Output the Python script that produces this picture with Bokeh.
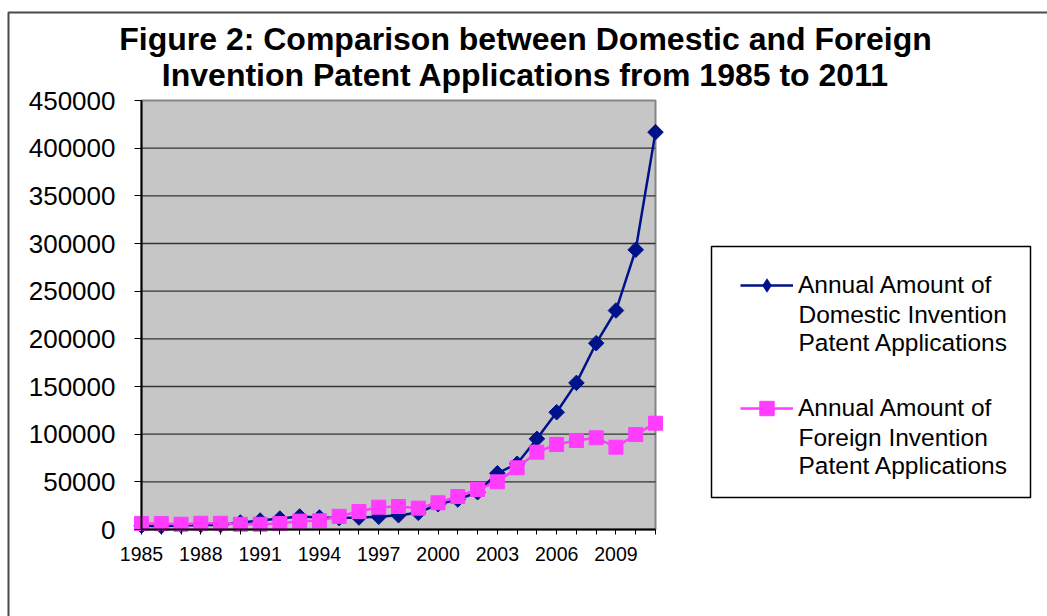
from bokeh.plotting import figure
from bokeh.models import (Range1d, FixedTicker, LinearAxis, Legend, LegendItem,
                          Label, BoxAnnotation)
from bokeh.embed import file_html
from bokeh.resources import INLINE

# ---------------- data ----------------
years = [1985, 1986, 1987, 1988, 1989, 1990, 1991, 1992, 1993, 1994, 1995, 1996, 1997, 1998,
         1999, 2000, 2001, 2002, 2003, 2004, 2005, 2006, 2007, 2008, 2009, 2010, 2011]
domestic = [4000, 3500, 4300, 4800, 4700, 7300, 9400, 11500, 13600, 12600, 12000, 12600, 13300, 15000,
            17500, 26500, 31500, 39100, 59000, 69000, 95100, 123000, 153800, 195400, 229700, 293400, 416800]
foreign = [6200, 6200, 5500, 6500, 6500, 5500, 5500, 6200, 8800, 9100, 13800, 18900, 23400, 24100,
           22400, 28000, 34600, 42000, 50000, 64700, 81100, 89200, 93400, 96200, 86300, 99600, 111500]
x_tick_labels = ["1985", "1988", "1991", "1994", "1997", "2000", "2003", "2006", "2009"]
y_ticks = [0, 50000, 100000, 150000, 200000, 250000, 300000, 350000, 400000, 450000]
y_tick_labels = ["0", "50000", "100000", "150000", "200000", "250000", "300000", "350000", "400000", "450000"]
title_lines = ["Figure 2: Comparison between Domestic and Foreign",
               "Invention Patent Applications from 1985 to 2011"]
series_lines = [["Annual Amount of", "Domestic Invention", "Patent Applications"],
                ["Annual Amount of", "Foreign Invention", "Patent Applications"]]

FONT = "Liberation Sans"
BLUE = "#00128a"
PINK = "#ff3dff"

W, H = 1047, 616
# pixel geometry of the plot area (frame covers the whole canvas)
PX_LEFT, PX_RIGHT = 141, 655      # first / last category
PY_TOP, PY_ZERO = 100, 529        # top of value axis / zero line
xper = (PX_RIGHT - PX_LEFT) / (years[-1] - years[0])
x0 = years[0] - PX_LEFT / xper
yper = (PY_ZERO - PY_TOP) / (y_ticks[-1] - y_ticks[0])
y0 = y_ticks[0] - (H - PY_ZERO) / yper

p = figure(width=W, height=H, output_backend="svg", toolbar_location=None,
           x_range=Range1d(x0, x0 + W / xper),
           y_range=Range1d(y0, y0 + H / yper),
           x_axis_location=None, y_axis_location=None,
           min_border=0, min_border_left=0, min_border_right=0,
           min_border_top=0, min_border_bottom=0)
p.grid.visible = False
p.outline_line_color = None
p.background_fill_color = "white"
p.border_fill_color = "white"

# plot area background
p.quad(left=years[0], right=years[-1], bottom=y_ticks[0], top=y_ticks[-1],
       fill_color="#c6c6c6", line_color="#858585", line_width=2)
# gridlines
p.segment(x0=years[0], x1=years[-1], y0=y_ticks[1:-1], y1=y_ticks[1:-1],
          line_color="#333333", line_width=1.3)

# axes
yaxis = LinearAxis(fixed_location=years[0], ticker=FixedTicker(ticks=y_ticks),
                   major_label_overrides={t: l for t, l in zip(y_ticks, y_tick_labels)},
                   bounds=(y_ticks[0], y_ticks[-1]))
yaxis.axis_line_color = "black"
yaxis.axis_line_width = 2
yaxis.major_tick_out = 7
yaxis.major_tick_in = 0
yaxis.minor_tick_out = 0
yaxis.minor_tick_in = 0
yaxis.major_label_standoff = 19
yaxis.major_label_text_font = FONT
yaxis.major_label_text_font_size = "26px"
yaxis.major_label_text_color = "black"
p.add_layout(yaxis, "left")

xaxis = LinearAxis(fixed_location=y_ticks[0], ticker=FixedTicker(ticks=years),
                   major_label_overrides={yr: (str(yr) if str(yr) in x_tick_labels else "") for yr in years},
                   bounds=(years[0], years[-1]))
xaxis.axis_line_color = "black"
xaxis.axis_line_width = 2
xaxis.major_tick_out = 5
xaxis.major_tick_in = 0
xaxis.minor_tick_out = 0
xaxis.minor_tick_in = 0
xaxis.major_label_standoff = 12
xaxis.major_label_text_font = FONT
xaxis.major_label_text_font_size = "19.5px"
xaxis.major_label_text_color = "black"
p.add_layout(xaxis, "below")

# series
l1 = p.line(years, domestic, line_color=BLUE, line_width=2.5)
s1 = p.scatter(years, domestic, marker="square", angle=0.785398, size=11,
               fill_color=BLUE, line_color=BLUE)
l2 = p.line(years, foreign, line_color=PINK, line_width=2.5)
s2 = p.scatter(years, foreign, marker="square", size=14, fill_color=PINK, line_color=PINK)
# legend-only marker (diamond shape for the key; zero size in the plot itself)
k1 = p.scatter(years, domestic, marker="diamond", size=0, fill_color=BLUE, line_color=None)

# legend box
LEG_L, LEG_R, LEG_T, LEG_B = 711, 1030, 246, 497
p.add_layout(BoxAnnotation(left=LEG_L, right=LEG_R, top=H - LEG_T, bottom=H - LEG_B,
                           left_units="screen", right_units="screen",
                           top_units="screen", bottom_units="screen",
                           fill_color="white", fill_alpha=1,
                           line_color="black", line_alpha=1, line_width=1.5))

FIRST = [285, 408]    # first text line centre of each entry (px from top)
PITCH = 28.5
GH = 36
legend = Legend(items=[LegendItem(label=series_lines[0][0], renderers=[l1, k1]),
                       LegendItem(label=series_lines[1][0], renderers=[l2, s2])],
                location=(740, H - (FIRST[1] + GH / 2)))
legend.border_line_color = None
legend.background_fill_alpha = 0
legend.padding = 0
legend.spacing = int(FIRST[1] - FIRST[0] - GH)
legend.margin = 0
legend.glyph_width = 53
legend.glyph_height = GH
legend.label_height = GH
legend.label_standoff = 5
legend.label_text_font = FONT
legend.label_text_font_size = "24.5px"
legend.label_text_color = "black"
p.add_layout(legend)

for lines, fy in zip(series_lines, FIRST):
    for k, txt in enumerate(lines[1:], start=1):
        p.add_layout(Label(x=798, y=H - (fy + k * PITCH), x_units="screen", y_units="screen",
                           text=txt, text_align="left", text_baseline="middle",
                           text_font=FONT, text_font_size="24.5px", text_color="black"))

# title
for txt, yy in zip(title_lines, [38, 74]):
    p.add_layout(Label(x=525, y=H - yy, x_units="screen", y_units="screen", text=txt,
                       text_align="center", text_baseline="alphabetic",
                       text_font=FONT, text_font_size="32px", text_font_style="bold",
                       text_color="black"))

# outer chart border
p.add_layout(BoxAnnotation(left=8, right=W + 50, top=H - 12, bottom=-50,
                           left_units="screen", right_units="screen",
                           top_units="screen", bottom_units="screen",
                           fill_alpha=0, line_color="#4a4a4a", line_alpha=1, line_width=2))

open("out.html", "w").write(file_html(p, INLINE))
